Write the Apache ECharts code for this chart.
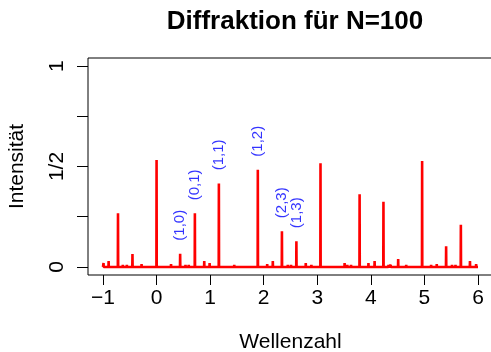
<!DOCTYPE html>
<html>
<head>
<meta charset="utf-8">
<script src="https://cdn.jsdelivr.net/npm/echarts@6/dist/echarts.min.js"></script>
<style>html,body{margin:0;padding:0;background:#fff}#c{width:491px;height:352px}</style>
</head>
<body>
<div id="c"></div>
<script>
// --- data ---
var peakX = [-0.99, -0.895, -0.72, -0.63, -0.555, -0.45, -0.28, 0.0, 0.27, 0.44, 0.54, 0.60, 0.715, 0.89, 0.99, 1.163, 1.45, 1.89, 2.065, 2.17, 2.34, 2.45, 2.51, 2.61, 2.785, 2.89, 3.06, 3.51, 3.56, 3.63, 3.79, 3.955, 4.07, 4.235, 4.33, 4.37, 4.51, 4.66, 4.957, 5.125, 5.23, 5.405, 5.515, 5.58, 5.68, 5.85, 5.965];
var peakH = [0.02, 0.03, 0.267, 0.01, 0.01, 0.065, 0.015, 0.532, 0.015, 0.066, 0.01, 0.01, 0.267, 0.03, 0.02, 0.416, 0.01, 0.484, 0.015, 0.03, 0.178, 0.01, 0.01, 0.128, 0.02, 0.01, 0.516, 0.02, 0.01, 0.01, 0.362, 0.02, 0.03, 0.325, 0.01, 0.01, 0.04, 0.01, 0.527, 0.01, 0.015, 0.103, 0.01, 0.01, 0.21, 0.03, 0.015];
var xStart = -1, xEnd = 6;
var labelNames = ['(1,0)', '(0,1)', '(1,1)', '(1,2)', '(2,3)', '(1,3)'];
var labelX = [0.44, 0.715, 1.163, 1.89, 2.34, 2.61];
var labelPeakH = [0.066, 0.267, 0.416, 0.484, 0.178, 0.128];
var xTicks = [-1, 0, 1, 2, 3, 4, 5, 6];
var yTicks = [0, 0.25, 0.5, 0.75, 1];
var yLabelValues = [0, 0.5, 1];
var yLabelTexts = ['0', '1/2', '1'];

// --- build line data ---
var hw = 0.003;
var lineData = [[xStart, 0]];
for (var i = 0; i < peakX.length; i++) {
  lineData.push([peakX[i] - hw, 0]);
  lineData.push([peakX[i], peakH[i]]);
  lineData.push([peakX[i] + hw, 0]);
}
lineData.push([xEnd, 0]);
var labelData = [];
for (var j = 0; j < labelNames.length; j++) {
  labelData.push({ name: labelNames[j], value: [labelX[j], labelPeakH[j] + 0.065] });
}
var xr = xEnd - xStart;
var FONT = 'Liberation Sans, Arial, Helvetica, sans-serif';

var chart = echarts.init(document.getElementById('c'), null, { renderer: 'canvas' });
chart.setOption({
  animation: false,
  backgroundColor: '#fff',
  title: {
    text: 'Diffraktion für N=100',
    left: 290, top: 4, textAlign: 'center',
    textStyle: { fontFamily: FONT, fontSize: 26, fontWeight: 'bold', color: '#000' }
  },
  grid: { left: 88, right: -2, top: 58, bottom: 77, show: true, borderColor: '#000', borderWidth: 1,
    backgroundColor: 'transparent', containLabel: false, outerBoundsMode: 'none' },
  xAxis: {
    type: 'value', min: xStart - 0.04 * xr, max: xEnd + 0.04 * xr,
    name: 'Wellenzahl', nameLocation: 'middle', nameGap: 57,
    nameTextStyle: { fontFamily: FONT, fontSize: 21, color: '#000' },
    axisLine: { show: false, onZero: false },
    axisTick: { show: true, length: 10, customValues: xTicks, lineStyle: { color: '#000', width: 1 } },
    axisLabel: { customValues: xTicks, margin: 13, fontFamily: FONT, fontSize: 21, color: '#000',
      formatter: function (v) { return String(v).replace('-', '\u2212'); } },
    splitLine: { show: false }
  },
  yAxis: {
    type: 'value', min: -0.04, max: 1.04,
    name: 'Intensität', nameLocation: 'middle', nameGap: 60, nameRotate: 90,
    nameTextStyle: { fontFamily: FONT, fontSize: 21, color: '#000' },
    axisLine: { show: false, onZero: false },
    axisTick: { show: true, length: 11, customValues: yTicks, lineStyle: { color: '#000', width: 1 } },
    axisLabel: { customValues: yLabelValues, rotate: 90, margin: 20, fontFamily: FONT, fontSize: 21, color: '#000',
      formatter: function (v) { var k = yLabelValues.indexOf(v); return k >= 0 ? yLabelTexts[k] : ''; } },
    splitLine: { show: false }
  },
  series: [
    {
      type: 'line', data: lineData, showSymbol: false, symbol: 'none',
      lineStyle: { color: '#ff0000', width: 2.6, join: 'bevel' },
      clip: true, z: 2
    },
    {
      type: 'scatter', data: labelData, symbolSize: 0, z: 3,
      label: { show: true, position: 'inside', rotate: 90, align: 'left', verticalAlign: 'middle',
        formatter: function (p) { return p.name; },
        fontFamily: FONT, fontSize: 15, color: '#0000ff' }
    }
  ]
});
</script>
</body>
</html>
